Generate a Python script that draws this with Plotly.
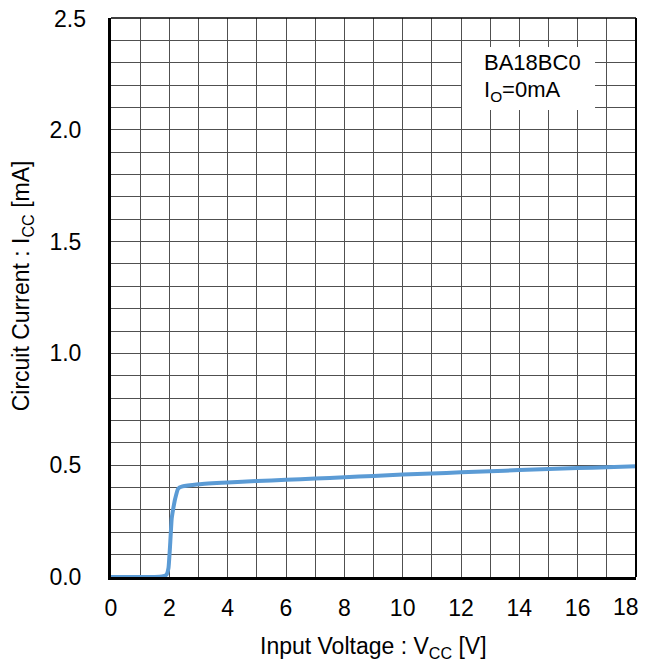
import plotly.graph_objects as go

vcc = [0.0, 0.5, 1.0, 1.5, 1.75, 1.9, 1.97, 2.03, 2.08, 2.14, 2.2, 2.3, 2.45, 3.0, 4.0, 5.0, 6.0, 7.0, 8.0, 9.0, 10.0, 11.0, 12.0, 13.0, 14.0, 15.0, 16.0, 17.0, 18.0]
icc = [0.0, 0.0, 0.0, 0.0, 0.002, 0.01, 0.04, 0.15, 0.26, 0.31, 0.35, 0.395, 0.405, 0.415, 0.423, 0.429, 0.435, 0.44, 0.446, 0.452, 0.458, 0.463, 0.468, 0.473, 0.478, 0.483, 0.487, 0.491, 0.495]

x_ticks = [0, 2, 4, 6, 8, 10, 12, 14, 16, 18]
x_labels = ["0", "2", "4", "6", "8", "10", "12", "14", "16", "18"]
y_ticks = [0.0, 0.5, 1.0, 1.5, 2.0, 2.5]
y_labels = ["0.0", "0.5", "1.0", "1.5", "2.0", "2.5"]

FAM = "Liberation Sans, Arial, sans-serif"
font = dict(family=FAM, size=23, color="#000000")
font_small = dict(family=FAM, size=22, color="#000000")

fig = go.Figure()
fig.add_trace(go.Scatter(x=vcc, y=icc, mode="lines",
                         line=dict(color="#5B9BD5", width=4, shape="spline", smoothing=0.4),
                         showlegend=False, hoverinfo="skip"))

grid = "#505050"
# interior tick labels on the axes; edge labels (which plotly would hide as past the div) as annotations
fig.update_xaxes(range=[0, 18], tickvals=x_ticks[:-1], ticktext=x_labels[:-1],
                 showgrid=True, gridcolor=grid, gridwidth=1,
                 minor=dict(dtick=1, tick0=0, showgrid=True, gridcolor=grid, gridwidth=1),
                 showline=True, linecolor="#000000", linewidth=3,
                 ticks="", ticklabelstandoff=8, zeroline=False,
                 tickfont=font)
fig.update_yaxes(range=[0, 2.5], tickvals=y_ticks[:-1], ticktext=y_labels[:-1],
                 showgrid=True, gridcolor=grid, gridwidth=1,
                 minor=dict(dtick=0.1, tick0=0, showgrid=True, gridcolor=grid, gridwidth=1),
                 showline=True, linecolor="#000000", linewidth=3,
                 ticks="", ticklabelstandoff=22, zeroline=False,
                 tickfont=font)

fig.add_annotation(x=1, xref="paper", y=0, yref="paper", yanchor="middle", xanchor="center",
                   xshift=-10, yshift=-30, showarrow=False, text=x_labels[-1], font=font)
fig.add_annotation(x=0, xref="paper", y=1, yref="paper", xanchor="right", yanchor="middle",
                   xshift=-23, yshift=-1, showarrow=False, text=y_labels[-1], font=font)

# top and right border
fig.add_shape(type="line", xref="paper", yref="paper", x0=0, x1=1, y0=1, y1=1,
              line=dict(color="#000000", width=1.5))
fig.add_shape(type="line", xref="paper", yref="paper", x0=1, x1=1, y0=0, y1=1,
              line=dict(color="#000000", width=2))

# label box
fig.add_shape(type="rect", xref="paper", yref="paper", x0=0.6686, x1=0.922, y0=0.8354, y1=0.948,
              fillcolor="#FFFFFF", line=dict(width=0), layer="above")
fig.add_annotation(x=0.7067, y=0.9205, xref="paper", yref="paper", xanchor="left", yanchor="middle",
                   align="left", showarrow=False, text="BA18BC0", font=font_small)
fig.add_annotation(x=0.7067, y=0.869, xref="paper", yref="paper", xanchor="left", yanchor="middle",
                   align="left", showarrow=False, text="I<sub>O</sub>=0mA", font=font_small)

# axis titles
fig.add_annotation(x=0.5, y=-0.127, xref="paper", yref="paper", xanchor="center", yanchor="middle",
                   showarrow=False, text="Input Voltage : V<sub>CC</sub> [V]", font=font)
fig.add_annotation(x=-0.1695, y=0.52, xref="paper", yref="paper", xanchor="center", yanchor="middle",
                   showarrow=False, textangle=-90, text="Circuit Current : I<sub>CC</sub> [mA]", font=font)

fig.update_layout(width=639, height=660, margin=dict(l=103, r=11, t=10, b=91),
                  plot_bgcolor="#FFFFFF", paper_bgcolor="#FFFFFF", font=font)

fig.write_html("out.html")
